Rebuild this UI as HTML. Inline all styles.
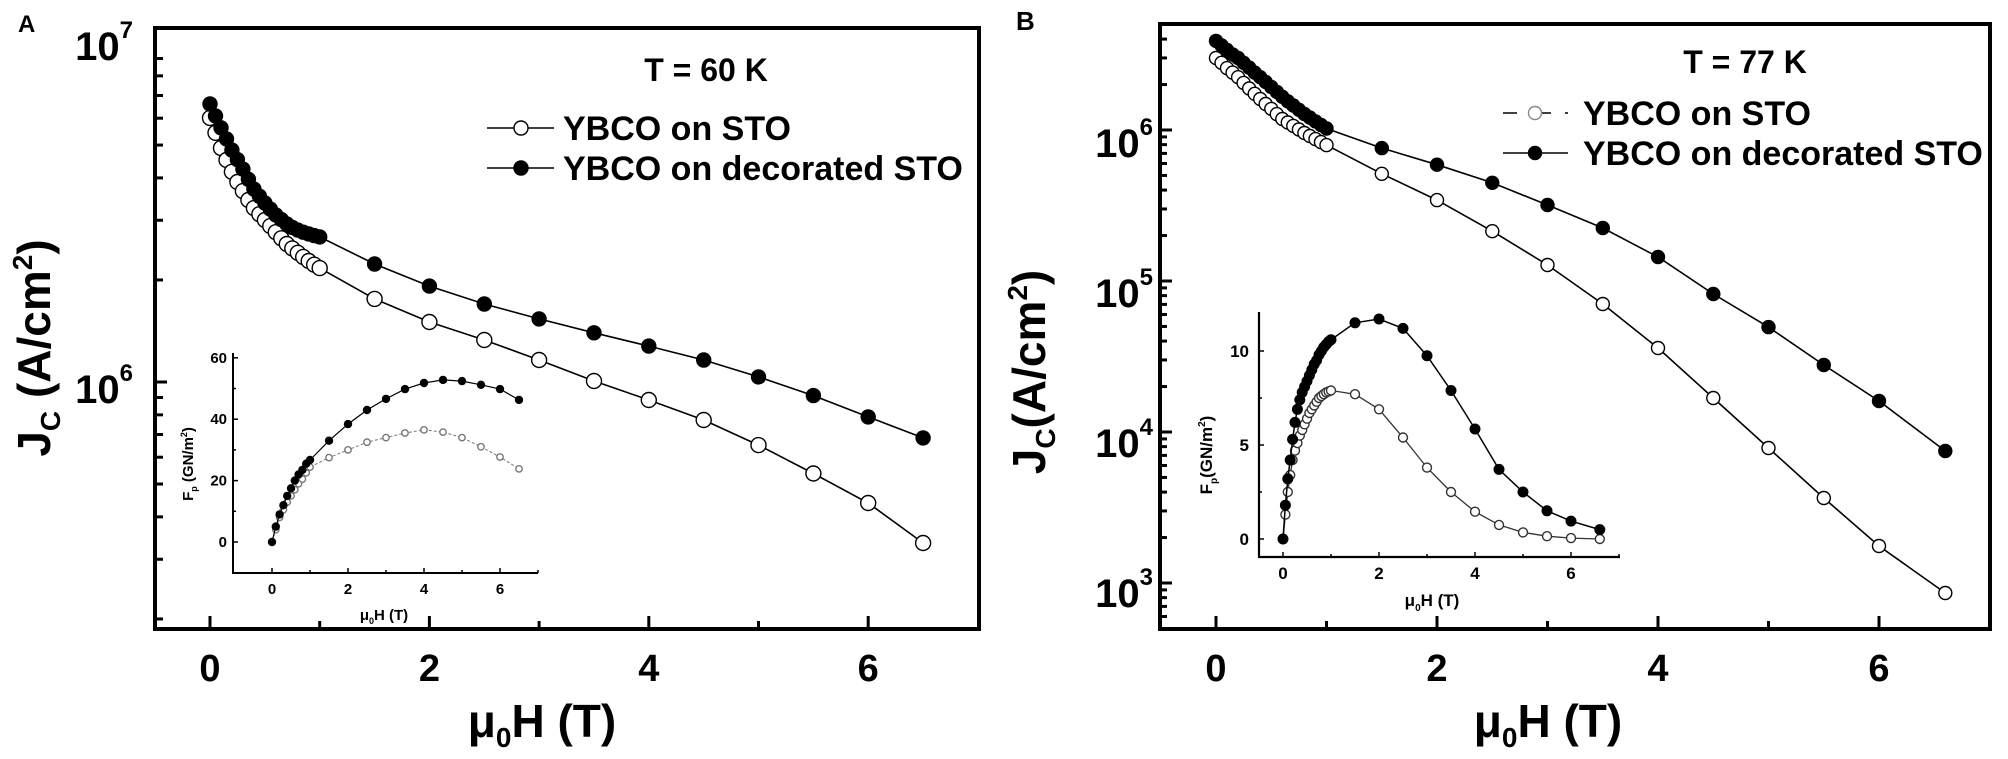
<!DOCTYPE html>
<html><head><meta charset="utf-8"><style>
html,body{margin:0;padding:0;background:#fff;}
svg{display:block;font-family:"Liberation Sans",Arial,sans-serif;font-weight:bold;}
</style></head><body>
<svg id="fig" width="2008" height="759" viewBox="0 0 2008 759" xmlns="http://www.w3.org/2000/svg">
<rect x="0" y="0" width="2008" height="759" fill="#fff"/>
<g id="layer"></g>
</svg>
<script>
// ---------- DATA ----------
const denseH = [0,0.05,0.1,0.15,0.2,0.25,0.3,0.35,0.4,0.45,0.5,0.55,0.6,0.65,0.7,0.75,0.8,0.85,0.9,0.95,1.0];
const tailHA = [1.5,2,2.5,3,3.5,4,4.5,5,5.5,6,6.5];
const tailHB = [1.5,2,2.5,3,3.5,4,4.5,5,5.5,6,6.6];
const logJcOpenA = [6.779,6.735,6.69,6.655,6.62,6.59,6.563,6.537,6.513,6.495,6.478,6.46,6.442,6.424,6.407,6.394,6.381,6.369,6.357,6.346,6.336,
  6.245,6.177,6.124,6.065,6.003,5.947,5.888,5.814,5.73,5.643,5.525];
const logJcFilledA = [6.82,6.785,6.75,6.717,6.684,6.656,6.628,6.598,6.569,6.548,6.528,6.51,6.493,6.479,6.466,6.456,6.448,6.442,6.437,6.432,6.428,
  6.348,6.283,6.23,6.186,6.145,6.106,6.065,6.015,5.96,5.897,5.835];
const logJcOpenB = [6.477,6.445,6.41,6.38,6.35,6.312,6.275,6.24,6.205,6.172,6.14,6.105,6.073,6.05,6.027,6.003,5.98,5.96,5.94,5.92,5.90,
  5.71,5.536,5.33,5.106,4.848,4.556,4.225,3.894,3.563,3.245,2.934];
const logJcFilledB = [6.59,6.56,6.53,6.50,6.477,6.445,6.413,6.38,6.35,6.318,6.285,6.252,6.22,6.19,6.162,6.134,6.106,6.082,6.057,6.033,6.01,
  5.88,5.77,5.65,5.503,5.351,5.159,4.914,4.695,4.444,4.205,3.874];
const insetHA = [0,0.1,0.2,0.3,0.4,0.5,0.6,0.7,0.8,0.9,1.0,1.5,2,2.5,3,3.5,4,4.5,5,5.5,6,6.5];
const fpOpenA = [0,4,8,10.5,13,15,17,19,20.5,22.5,24.4,27.5,30,32.5,34,35.5,36.5,35.8,34,31,27.7,23.8];
const fpFilledA = [0,5,9,12,15,17.5,20,22,23.5,25.5,26.7,33,38.4,43,46.6,49.8,51.8,52.8,52.4,51.2,49.8,46.3];
const fpOpenB = [0,1.3,2.5,3.4,4.2,4.7,5.1,5.5,5.8,6.1,6.4,6.7,6.9,7.1,7.3,7.5,7.6,7.7,7.8,7.85,7.9,
  7.7,6.9,5.4,3.8,2.5,1.45,0.75,0.35,0.15,0.05,0.0];
const fpFilledB = [0,1.8,3.2,4.2,5.3,6.2,6.9,7.4,7.8,8.1,8.4,8.7,9.0,9.3,9.5,9.8,10.0,10.2,10.35,10.5,10.6,
  11.5,11.7,11.2,9.75,7.9,5.85,3.7,2.5,1.5,0.95,0.5];
const xTicksMain = [0,2,4,6];
const xMinorMain = [1,3,5];
const insetXTicks = [0,2,4,6];
const insetAYTicks = [0,20,40,60];
const insetBYTicks = [0,5,10];

// ---------- HELPERS ----------
const NS = "http://www.w3.org/2000/svg";
const layer = document.getElementById('layer');
function mk(tag, attrs, parent){
  const e = document.createElementNS(NS, tag);
  for (const k in attrs) e.setAttribute(k, attrs[k]);
  (parent||layer).appendChild(e);
  return e;
}
const axA = {x:v=>210+v*109.7, y:l=>43+(7-l)*339, left:155, top:28, right:979, bottom:629};
const axB = {x:v=>1216+v*110.5, y:l=>130+(6-l)*151, left:1160, top:24, right:1990, bottom:629};
const inA = {x:v=>272+v*38, y:v=>542-v*3.07, left:233, top:353, right:538, bottom:573};
const inB = {x:v=>1283+v*48, y:v=>539-v*18.8, left:1259, top:312, right:1620, bottom:557};

function series(ax, xs, ys, filled, r, name, stroke, lw, dash){
  let d = '';
  xs.forEach((v,i)=>{ d += (i?'L':'M') + ax.x(v).toFixed(1) + ' ' + ax.y(ys[i]).toFixed(1); });
  const p = mk('path',{d:d,fill:'none',stroke:stroke,'stroke-width':lw});
  if (dash) p.setAttribute('stroke-dasharray', dash);
  
  
  xs.forEach((v,i)=>{
    const c = mk('circle',{cx:ax.x(v).toFixed(1), cy:ax.y(ys[i]).toFixed(1), r:r,
      fill: filled?'#000':'#fff', stroke:stroke, 'stroke-width':1.4});
    
    
  });
}
function frame(ax, name, lw){
  const r = mk('rect',{x:ax.left,y:ax.top,width:ax.right-ax.left,height:ax.bottom-ax.top,fill:'none',stroke:'#000','stroke-width':lw});
  
  
}
function text(x,y,str,size,anchor,name){
  const t = mk('text',{x:x,y:y,'font-size':size,'text-anchor':anchor||'start',fill:'#000'});
  t.textContent = str;
  
  
  return t;
}
function tsp(parent, str, attrs){
  const s = mk('tspan', attrs||{}, parent);
  s.textContent = str;
  return s;
}

// ---------- PANEL A ----------
frame(axA, 'panel-a-plot-frame', 4);
xTicksMain.forEach(v=>{
  const l = mk('line',{x1:axA.x(v),x2:axA.x(v),y1:axA.bottom,y2:axA.bottom-13,stroke:'#000','stroke-width':3});
   
  text(axA.x(v), 681, String(v), 38, 'middle', 'x-tick-label');
});
xMinorMain.forEach(v=>{
  const l = mk('line',{x1:axA.x(v),x2:axA.x(v),y1:axA.bottom,y2:axA.bottom-8,stroke:'#000','stroke-width':3});
   
});
[5,6].forEach(dec=>{
  for (let m=1;m<=9;m++){
    const yy = axA.y(dec+Math.log10(m));
    if (yy<axA.top+2 || yy>axA.bottom-2) continue;
    const l = mk('line',{x1:axA.left,x2:axA.left+(m===1?12:8),y1:yy,y2:yy,stroke:'#000','stroke-width':3});
     
  }
});
{
  let t = text(133, 60, '10', 40, 'end', 'y-tick-label-1e7'); tsp(t,'7',{dy:-22,'font-size':24});
  t = text(133, 403, '10', 40, 'end', 'y-tick-label-1e6'); tsp(t,'6',{dy:-22,'font-size':24});
}
text(18, 32, 'A', 24, 'start', 'panel-a-label');
text(706, 81, 'T = 60 K', 32, 'middle', 'panel-a-temperature');
{
  const t = text(542, 737, 'μ', 46, 'middle', 'x-axis-title-a');
  tsp(t,'0',{dy:10,'font-size':28}); tsp(t,'H (T)',{dy:-10});
  const y = mk('text',{transform:'translate(50,348) rotate(-90)','font-size':46,'text-anchor':'middle'});
   
  tsp(y,'J'); tsp(y,'C',{dy:10,'font-size':28}); tsp(y,' (A/cm',{dy:-10}); tsp(y,'2',{dy:-18,'font-size':28}); tsp(y,')',{dy:18});
}
[[128,false,'YBCO on STO','legend-entry-sto'],[168,true,'YBCO on decorated STO','legend-entry-decorated']].forEach(e=>{
  const l = mk('line',{x1:487,x2:554,y1:e[0],y2:e[0],stroke:'#000','stroke-width':1.6});
   
  const c = mk('circle',{cx:521,cy:e[0],r:7,fill:e[1]?'#000':'#fff',stroke:'#000','stroke-width':1.4});
   
  text(563, e[0]+12, e[2], 34, 'start', e[3]+'-label');
});
series(axA, denseH.concat(tailHA), logJcOpenA, false, 7.5, 'a-sto', '#000', 1.6);
series(axA, denseH.concat(tailHA), logJcFilledA, true, 7, 'a-decorated', '#000', 1.6);

// inset A
{
  const p = mk('path',{d:`M${inA.left} ${inA.top}V${inA.bottom}H${inA.right}`,fill:'none',stroke:'#000','stroke-width':2});
   
}
[0,1,2,3,4,5,6,7].forEach(v=>{
  const l = mk('line',{x1:inA.x(v),x2:inA.x(v),y1:inA.bottom,y2:inA.bottom-(v%2?3:5),stroke:'#000','stroke-width':1.5});
   
});
insetXTicks.forEach(v=>text(inA.x(v), 594, String(v), 15, 'middle', 'inset-a-x-tick-label'));
[0,10,20,30,40,50,60].forEach(v=>{
  const l = mk('line',{x1:inA.left,x2:inA.left+(v%20?3:5),y1:inA.y(v),y2:inA.y(v),stroke:'#000','stroke-width':1.5});
   
});
insetAYTicks.forEach(v=>text(227, inA.y(v)+5, String(v), 15, 'end', 'inset-a-y-tick-label'));
{
  const t = text(384, 620, 'μ', 15, 'middle', 'inset-a-x-title');
  tsp(t,'0',{dy:4,'font-size':9}); tsp(t,'H (T)',{dy:-4});
  const y = mk('text',{transform:'translate(193,464) rotate(-90)','font-size':15,'text-anchor':'middle'});
   
  tsp(y,'F'); tsp(y,'p',{dy:4,'font-size':9}); tsp(y,' (GN/m',{dy:-4}); tsp(y,'2',{dy:-6,'font-size':9}); tsp(y,')',{dy:6});
}
series(inA, insetHA, fpOpenA, false, 3.2, 'inset-a-sto', '#777', 1, '3 2');
series(inA, insetHA, fpFilledA, true, 3.5, 'inset-a-decorated', '#000', 1.2);

// ---------- PANEL B ----------
frame(axB, 'panel-b-plot-frame', 4);
xTicksMain.forEach(v=>{
  const l = mk('line',{x1:axB.x(v),x2:axB.x(v),y1:axB.bottom,y2:axB.bottom-13,stroke:'#000','stroke-width':3});
   
  text(axB.x(v), 681, String(v), 38, 'middle', 'x-tick-label');
});
xMinorMain.forEach(v=>{
  const l = mk('line',{x1:axB.x(v),x2:axB.x(v),y1:axB.bottom,y2:axB.bottom-8,stroke:'#000','stroke-width':3});
   
});
[2,3,4,5,6].forEach(dec=>{
  for (let m=1;m<=9;m++){
    const yy = axB.y(dec+Math.log10(m));
    if (yy<axB.top+2 || yy>axB.bottom-2) continue;
    const l = mk('line',{x1:axB.left,x2:axB.left+(m===1?12:7),y1:yy,y2:yy,stroke:'#000','stroke-width':3});
     
  }
});
[[6,157],[5,307],[4,457],[3,607]].forEach(e=>{
  const t = text(1153, e[1], '10', 40, 'end', 'y-tick-label-1e'+e[0]);
  tsp(t, String(e[0]), {dy:-22,'font-size':24});
});
text(1016, 30, 'B', 26, 'start', 'panel-b-label');
text(1745, 73, 'T = 77 K', 32, 'middle', 'panel-b-temperature');
{
  const t = text(1548, 737, 'μ', 46, 'middle', 'x-axis-title-b');
  tsp(t,'0',{dy:10,'font-size':28}); tsp(t,'H (T)',{dy:-10});
  const y = mk('text',{transform:'translate(1045,372) rotate(-90)','font-size':46,'text-anchor':'middle'});
   
  tsp(y,'J'); tsp(y,'C',{dy:10,'font-size':28}); tsp(y,'(A/cm',{dy:-10}); tsp(y,'2',{dy:-18,'font-size':28}); tsp(y,')',{dy:18});
}
[[113,false,'YBCO on STO','legend-entry-sto-b'],[153,true,'YBCO on decorated STO','legend-entry-decorated-b']].forEach(e=>{
  const l = mk('line',{x1:1503,x2:1568,y1:e[0],y2:e[0],stroke:'#000','stroke-width':1.6});
  if (!e[1]) l.setAttribute('stroke-dasharray','14 20 14');
   
  const c = mk('circle',{cx:1535,cy:e[0],r:6.5,fill:e[1]?'#000':'#fff',stroke:e[1]?'#000':'#888','stroke-width':1.4});
   
  text(1583, e[0]+12, e[2], 34, 'start', e[3]+'-label');
});
series(axB, denseH.concat(tailHB), logJcOpenB, false, 6.5, 'b-sto', '#000', 1.6);
series(axB, denseH.concat(tailHB), logJcFilledB, true, 6.5, 'b-decorated', '#000', 1.6);

// inset B
{
  const p = mk('path',{d:`M${inB.left} ${inB.top}V${inB.bottom}H${inB.right}`,fill:'none',stroke:'#000','stroke-width':2.2});
   
}
[0,1,2,3,4,5,6,7].forEach(v=>{
  const l = mk('line',{x1:inB.x(v),x2:inB.x(v),y1:inB.bottom,y2:inB.bottom-(v%2?3:5),stroke:'#000','stroke-width':1.5});
   
});
insetXTicks.forEach(v=>text(inB.x(v), 579, String(v), 17, 'middle', 'inset-b-x-tick-label'));
[0,2.5,5,7.5,10].forEach(v=>{
  const l = mk('line',{x1:inB.left,x2:inB.left+(v%5?3:5),y1:inB.y(v),y2:inB.y(v),stroke:'#000','stroke-width':1.5});
   
});
insetBYTicks.forEach(v=>text(1249, inB.y(v)+6, String(v), 17, 'end', 'inset-b-y-tick-label'));
{
  const t = text(1432, 606, 'μ', 17, 'middle', 'inset-b-x-title');
  tsp(t,'0',{dy:5,'font-size':10}); tsp(t,'H (T)',{dy:-5});
  const y = mk('text',{transform:'translate(1212,455) rotate(-90)','font-size':17,'text-anchor':'middle'});
   
  tsp(y,'F'); tsp(y,'p',{dy:5,'font-size':10}); tsp(y,'(GN/m',{dy:-5}); tsp(y,'2',{dy:-7,'font-size':10}); tsp(y,')',{dy:7});
}
series(inB, denseH.concat(tailHB), fpOpenB, false, 4.5, 'inset-b-sto', '#333', 1.3);
series(inB, denseH.concat(tailHB), fpFilledB, true, 4.8, 'inset-b-decorated', '#000', 1.5);
</script>
</body></html>
